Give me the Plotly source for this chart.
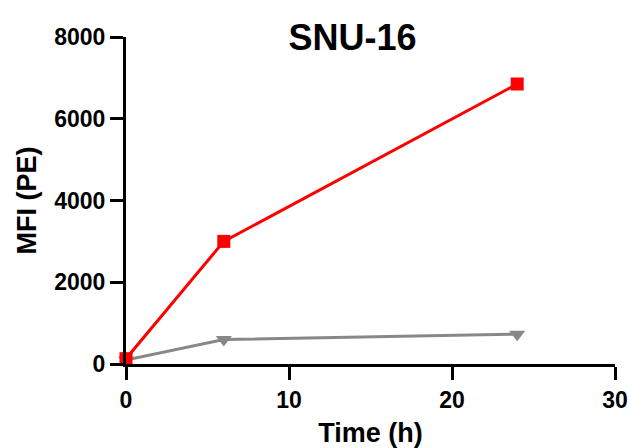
import plotly.graph_objects as go

time_h = [0, 6, 24]
red_mfi = [130, 3000, 6850]
gray_mfi = [100, 600, 730]
x_ticks = [0, 10, 20, 30]
y_ticks = [0, 2000, 4000, 6000, 8000]

fig = go.Figure()
fig.add_trace(go.Scatter(x=time_h, y=gray_mfi, mode="lines+markers",
                         line=dict(color="#888888", width=3),
                         marker=dict(symbol="triangle-down", size=14, color="#888888"),
                         cliponaxis=False, showlegend=False))
fig.add_trace(go.Scatter(x=time_h, y=red_mfi, mode="lines+markers",
                         line=dict(color="#FF0000", width=3),
                         marker=dict(symbol="square", size=13, color="#FF0000"),
                         cliponaxis=False, showlegend=False))

font = "Liberation Sans, Arial, sans-serif"
fig.update_layout(
    width=629, height=448,
    margin=dict(l=126, r=14, t=37, b=84),
    plot_bgcolor="white", paper_bgcolor="white",
    font=dict(family=font, color="black"),
    title=dict(text="<b>SNU-16</b>", x=0.5604, xanchor="center", y=0.916, yanchor="middle",
               font=dict(size=36, family=font, color="black")),
)
fig.update_xaxes(range=[0, 30], tickvals=x_ticks, showline=True, linewidth=3, linecolor="black",
                 ticks="outside", ticklen=13, tickwidth=3, tickcolor="black",
                 showgrid=False, zeroline=False, automargin=False,
                 tickfont=dict(size=23, family=font, color="black", weight="bold"),
                 title=dict(text="<b>Time (h)</b>", font=dict(size=27, family=font), standoff=15))
fig.update_yaxes(range=[0, 8000], tickvals=y_ticks, showline=True, linewidth=3, linecolor="black",
                 ticks="outside", ticklen=13, tickwidth=3, tickcolor="black",
                 showgrid=False, zeroline=False, automargin=False,
                 tickfont=dict(size=23, family=font, color="black", weight="bold"),
                 title=dict(text="<b>MFI (PE)</b>", font=dict(size=27, family=font), standoff=10))
fig.write_html("out.html", config={"displayModeBar": False},
               post_script="document.body.style.margin='0';document.body.style.overflow='hidden';")
